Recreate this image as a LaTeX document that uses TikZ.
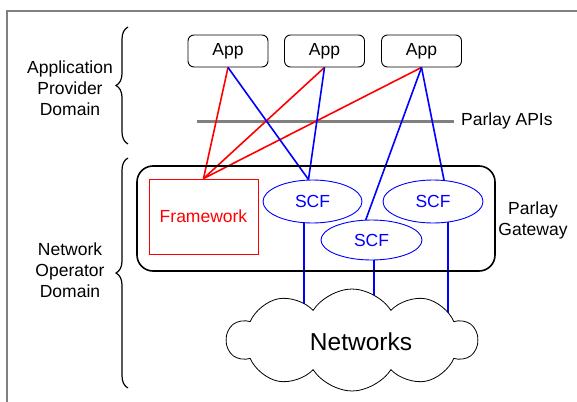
\documentclass[tikz,border=0pt]{standalone}
\usepackage{fontspec}
\setmainfont{Liberation Sans}
\usetikzlibrary{shapes.geometric,shapes.symbols,backgrounds,decorations.pathreplacing,calc}
\definecolor{pblue}{RGB}{0,0,255}
\definecolor{pred}{RGB}{255,0,0}
\definecolor{pgray}{RGB}{128,128,128}
\tikzset{
  txt/.style={font=\fontsize{17.5}{21}\selectfont, align=center, inner sep=0pt},
  appbox/.style={draw=black, line width=0.9pt, rounded corners=6pt, minimum width=80pt, minimum height=32pt, txt},
  scf/.style={ellipse, draw=pblue, line width=0.9pt, fill=white, text=pblue, txt},
  fwbox/.style={draw=pred, line width=0.9pt, minimum width=109pt, minimum height=75pt, text=pred, txt},
  redline/.style={draw=pred, line width=1.6pt},
  blueline/.style={draw=pblue, line width=1.6pt},
  dombrace/.style={decorate, decoration={brace, amplitude=12pt}, line width=1.2pt},
}
\begin{document}
\begin{tikzpicture}[x=1pt,y=-1pt]
\useasboundingbox (0,0) rectangle (577,401);
% outer frame
\draw[pgray, line width=1.3pt] (7,410) -- (7,11) -- (590,11);

% braces
\draw[dombrace] (128,144) -- (128,27);
\draw[dombrace] (128,388) -- (128,158);
\node[txt] (apd) at (70,88) {Application\\Provider\\Domain};
\node[txt] (nod) at (70,270) {Network\\Operator\\Domain};

% apps
\node[appbox] (app1) at (228,51) {App};
\node[appbox] (app2) at (324.5,51) {App};
\node[appbox] (app3) at (421.5,51) {App};

% Parlay APIs line
\coordinate (apiL) at (197,121);
\coordinate (apiR) at (454,121);
\node[txt, anchor=west] (apis) at (461,121) {Parlay APIs};

% gateway
\node[draw=black, line width=1.6pt, rounded corners=16pt, minimum width=358pt, minimum height=105pt] (gw) at (316,218.5) {};
\node[txt] (gwl) at (533,220) {Parlay\\Gateway};

% framework
\node[fwbox] (fw) at (203.5,216.5) {Framework};

% SCFs
\node[scf, minimum width=99pt, minimum height=43pt] (scf1) at (312.5,201.5) {SCF};
\node[scf, minimum width=100pt, minimum height=43pt] (scf2) at (433,201.5) {SCF};
\node[scf, minimum width=101pt, minimum height=40pt] (scf3) at (371.5,240) {SCF};

% cloud
\node[cloud, draw=black, line width=0.8pt, fill=white, cloud puffs=10, cloud puff arc=115, aspect=2.4, minimum width=250pt, minimum height=102pt, inner sep=0pt] (net) at (352,340) {};
\node[font=\fontsize{24.5}{28}\selectfont, inner sep=0pt] (netl) at (361,342) {Networks};

\coordinate (s1top) at ($(scf1.north)+(-4,0)$);
\coordinate (s3top) at ($(scf3.north)+(-6,1)$);
\coordinate (s2top) at ($(scf2.north)+(11,0.5)$);
\coordinate (s1a) at ($(scf1.center)+(-8.5,0)$);
\coordinate (s1b) at ($(scf1.center)+(-8.5,130)$);
\coordinate (s3a) at ($(scf3.center)+(2.5,0)$);
\coordinate (s3b) at ($(scf3.center)+(2.5,90)$);
\coordinate (s2a) at ($(scf2.center)+(15,0)$);
\coordinate (s2b) at ($(scf2.center)+(15,130)$);

\begin{pgfonlayer}{background}
\draw[pgray, line width=3pt] (apiL) -- (apiR);
\draw[redline] (app1.south) -- (fw.north);
\draw[redline] (app2.south) -- (fw.north);
\draw[redline] (app3.south) -- (fw.north);
\draw[blueline] (app1.south) -- (s1top);
\draw[blueline] (app2.south) -- (s1top);
\draw[blueline] (app3.south) -- (s3top);
\draw[blueline] (app3.south) -- (s2top);
\draw[blueline] (s1a) -- (s1b);
\draw[blueline] (s3a) -- (s3b);
\draw[blueline] (s2a) -- (s2b);
\end{pgfonlayer}
\end{tikzpicture}
\end{document}
